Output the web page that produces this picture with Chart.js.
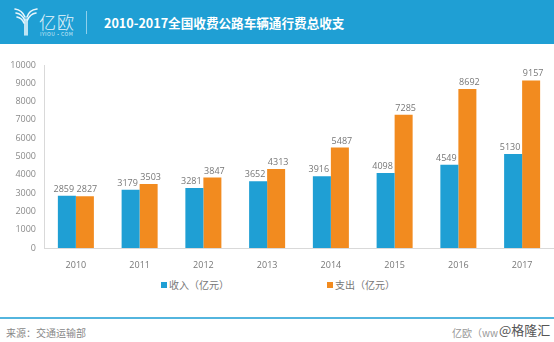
<!DOCTYPE html>
<html lang="zh">
<head>
  <meta charset="UTF-8" />
  <title>2010-2017全国收费公路车辆通行费总收支</title>
  <script src="https://cdn.jsdelivr.net/npm/chart.js"></script>
  <style>
    body { margin: 0; width: 554px; height: 342px; background: #fff; position: relative; overflow: hidden;
           font-family: "Noto Sans CJK SC", "Noto Sans", sans-serif; }
    .header { position: absolute; left: 0; top: 0; width: 554px; height: 44px; background: #1f9fd4; }
    .logo-text { position: absolute; left: 39px; top: 9px; color: #e8f6fc; font-size: 17px; font-weight: 300; letter-spacing: 1px; }
    .logo-sub { position: absolute; left: 40px; top: 30px; color: #d6eef9; font-size: 5px; letter-spacing: 0.5px; }
    .divider { position: absolute; left: 86px; top: 11px; width: 1px; height: 23px; background: #8fd0ec; }
    .title { position: absolute; left: 104px; top: 13px; color: #fff; font-size: 12.6px; font-weight: bold; white-space: nowrap; }
    #wrap { position: absolute; left: 0; top: 50px; width: 554px; height: 225px; }
    .legend { position: absolute; top: 277px; font-size: 10px; color: #777; white-space: nowrap; }
    .legend i { display: inline-block; width: 6px; height: 6px; margin-right: 2px; vertical-align: 1px; }
    .rule { position: absolute; left: 0; top: 317px; width: 554px; height: 2px; background: #53b5de; }
    .source { position: absolute; left: 6px; top: 325px; font-size: 10px; color: #888; }
    .site { position: absolute; left: 452px; top: 325px; font-size: 10px; color: #999; }
    .mark { position: absolute; left: 499px; top: 320px; font-size: 13px; color: #555; }
  </style>
</head>
<body>
  <!-- Header -->
  <div class="header">
    <svg style="position:absolute;left:14px;top:7px" width="24" height="30" viewBox="0 0 24 30">
      <g fill="none" stroke="#e8f6fc" stroke-width="1.6" stroke-linecap="round">
        <path d="M1 2 Q8 3 11 10" />
        <path d="M2 6 Q8 7 10.5 13" />
        <path d="M3 10 Q8 11 10 16" />
        <path d="M23 2 Q15 3 13 10" />
        <path d="M22 6 Q16 7 13.5 13" />
        <path d="M11 12 L11 28" />
        <path d="M13 12 L13 28" />
      </g>
    </svg>
    <div class="logo-text">亿欧</div>
    <div class="logo-sub">IYIOU·COM</div>
    <div class="divider"></div>
    <div class="title">2010-2017全国收费公路车辆通行费总收支</div>
  </div>

  <div id="wrap"><canvas id="chart"></canvas></div>

  <div class="legend" style="left:161px"><i style="background:#1f9fd4"></i>收入（亿元）</div>
  <div class="legend" style="left:327px"><i style="background:#f28b1f"></i>支出（亿元）</div>

  <div class="rule"></div>
  <div class="source">来源：交通运输部</div>
  <div class="site">亿欧（ww</div>
  <div class="mark">@格隆汇</div>

  <script>
    const years = ['2010', '2011', '2012', '2013', '2014', '2015', '2016', '2017'];
    const income = [2859, 3179, 3281, 3652, 3916, 4098, 4549, 5130];
    const expense = [2827, 3503, 3847, 4313, 5487, 7285, 8692, 9157];

    const tickFont = { size: 9, family: '"Open Sans", "Noto Sans", sans-serif' };

    // numbers above each bar (pushed apart a little so pairs don't touch)
    const barLabels = {
      id: 'barLabels',
      afterDatasetsDraw(chart) {
        const ctx = chart.ctx;
        ctx.save();
        ctx.font = '9px "Open Sans", "Noto Sans", sans-serif';
        ctx.fillStyle = '#777';
        ctx.textAlign = 'center';
        ctx.textBaseline = 'bottom';
        chart.data.datasets.forEach((ds, i) => {
          const dx = i === 0 ? -3 : 2;
          chart.getDatasetMeta(i).data.forEach((bar, j) => {
            ctx.fillText(ds.data[j], bar.x + dx, bar.y - 2);
          });
        });
        ctx.restore();
      }
    };

    new Chart(document.getElementById('chart'), {
      type: 'bar',
      data: {
        labels: years,
        datasets: [
          { label: '收入（亿元）', data: income, backgroundColor: '#1f9fd4' },
          { label: '支出（亿元）', data: expense, backgroundColor: '#f28b1f' }
        ]
      },
      options: {
        responsive: true,
        maintainAspectRatio: false,
        animation: false,
        categoryPercentage: 0.565,
        barPercentage: 1.0,
        layout: { padding: { top: 15, right: 0, left: 0, bottom: 0 } },
        plugins: { legend: { display: false }, tooltip: { enabled: false } },
        scales: {
          x: {
            grid: { display: false, drawTicks: false },
            border: { color: '#d9d9d9' },
            ticks: { color: '#777', padding: 12, font: tickFont },
            afterFit(scale) { scale.height = 27; }
          },
          y: {
            min: 0,
            max: 10000,
            grid: { display: false, drawTicks: false },
            border: { color: '#d9d9d9' },
            ticks: { stepSize: 1000, color: '#8a8a8a', padding: 8, font: tickFont, callback: v => v },
            afterFit(scale) { scale.width = 44; }
          }
        }
      },
      plugins: [barLabels]
    });
  </script>
</body>
</html>
